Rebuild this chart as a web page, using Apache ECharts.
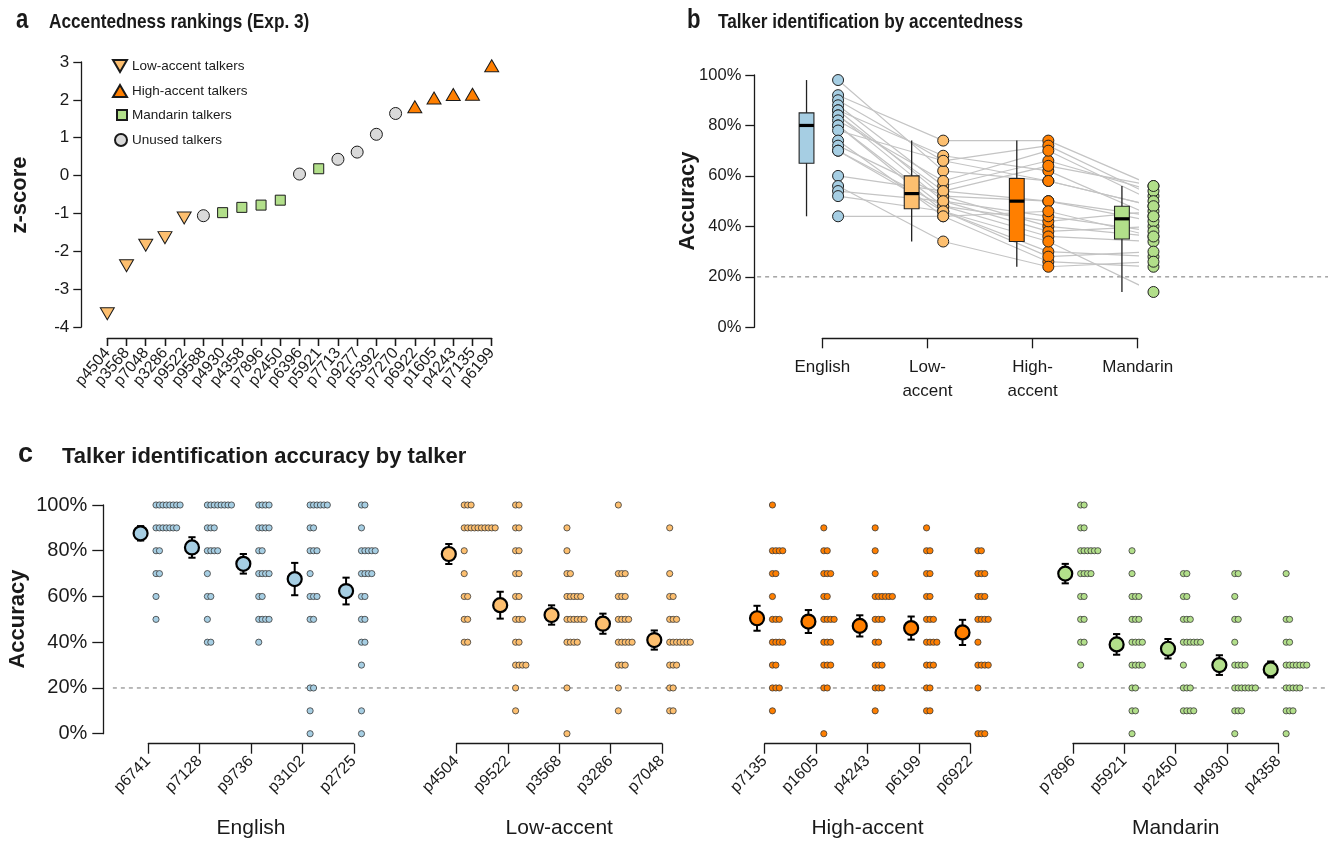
<!DOCTYPE html>
<html>
<head>
<meta charset="utf-8">
<script src="https://cdn.jsdelivr.net/npm/echarts@6/dist/echarts.min.js"></script>
<style>
  html, body { margin: 0; padding: 0; background: #fff; }
  #chart { width: 1328px; height: 843px; }
</style>
</head>
<body>
<div id="chart"></div>
<script>
// ---------- panel a: accentedness rankings ----------
const rankTalkers = ['p4504', 'p3568', 'p7048', 'p3286', 'p9522', 'p9588', 'p4930', 'p4358', 'p7896', 'p2450',
  'p6396', 'p5921', 'p7713', 'p9277', 'p5392', 'p7270', 'p6922', 'p1605', 'p4243', 'p7135', 'p6199']
const rankZ = [-3.65, -2.38, -1.84, -1.64, -1.12, -1.06, -0.98, -0.84, -0.78, -0.65,
  0.04, 0.18, 0.43, 0.62, 1.09, 1.64, 1.82, 2.05, 2.14, 2.15, 2.9]
const rankKind = ['low', 'low', 'low', 'low', 'low', 'unused', 'mand', 'mand', 'mand', 'mand',
  'unused', 'mand', 'unused', 'unused', 'unused', 'unused', 'high', 'high', 'high', 'high', 'high']
const zTicks = [-4, 3]

// ---------- panel b: per-participant accuracy by accent group ----------
const groupNames = ['English', 'Low-\naccent', 'High-\naccent', 'Mandarin']
const partEnglish = [98, 92, 90, 88, 86, 86, 84, 84, 82, 80, 80, 78, 74, 72, 70, 70, 60, 56, 54, 52, 44]
const partLow = [62, 74, 66, 56, 68, 52, 54, 50, 58, 46, 48, 66, 44, 52, 48, 46, 54, 34, 50, 46, 44]
const partHigh = [58, 74, 72, 66, 62, 40, 64, 38, 70, 30, 42, 58, 26, 50, 36, 28, 50, 24, 44, 34, 46]
const partMandarin = [48, 56, 52, 54, 44, 36, 56, 40, 50, 28, 46, 48, 24, 42, 34, 30, 44, 26, 38, 14, 36]
// [lower whisker, Q1, median, Q3, upper whisker]
const boxEnglish = [44, 65, 80, 85, 98]
const boxLow = [34, 47, 53, 60, 74]
const boxHigh = [24, 34, 50, 59, 74]
const boxMandarin = [14, 35, 43, 48, 56]
const chance = 20

// ---------- panel c: per-talker accuracy ----------
const levels = [0, 10, 20, 30, 40, 50, 60, 70, 80, 90, 100]
const englishTalkers = ['p6741', 'p7128', 'p9736', 'p3102', 'p2725']
const englishCounts = [
  [0, 0, 0, 0, 0, 1, 1, 2, 2, 7, 8],
  [0, 0, 0, 0, 2, 1, 2, 1, 4, 3, 8],
  [0, 0, 0, 0, 1, 4, 2, 4, 2, 4, 4],
  [1, 1, 2, 0, 0, 2, 3, 1, 3, 2, 6],
  [1, 1, 0, 1, 2, 2, 2, 4, 5, 1, 2]
]
const lowTalkers = ['p4504', 'p9522', 'p3568', 'p3286', 'p7048']
const lowCounts = [
  [0, 0, 0, 0, 2, 2, 2, 1, 1, 10, 3],
  [0, 1, 1, 4, 2, 3, 2, 2, 2, 2, 2],
  [1, 0, 1, 0, 4, 6, 5, 2, 1, 1, 0],
  [0, 1, 1, 3, 5, 4, 3, 3, 0, 0, 1],
  [0, 2, 2, 3, 7, 3, 2, 1, 0, 1, 0]
]
const highTalkers = ['p7135', 'p1605', 'p4243', 'p6199', 'p6922']
const highCounts = [
  [0, 1, 3, 2, 4, 3, 1, 2, 4, 0, 1],
  [1, 0, 2, 3, 3, 4, 2, 3, 2, 1, 0],
  [0, 1, 3, 3, 2, 3, 6, 1, 1, 1, 0],
  [0, 2, 2, 3, 4, 3, 2, 2, 2, 1, 0],
  [3, 0, 1, 4, 1, 4, 3, 3, 2, 0, 0]
]
const mandarinTalkers = ['p7896', 'p5921', 'p2450', 'p4930', 'p4358']
const mandarinCounts = [
  [0, 0, 0, 1, 2, 2, 2, 4, 6, 2, 2],
  [1, 2, 2, 4, 4, 3, 3, 1, 1, 0, 0],
  [0, 4, 3, 1, 6, 3, 2, 2, 0, 0, 0],
  [1, 3, 7, 4, 1, 2, 1, 2, 0, 0, 0],
  [1, 3, 5, 7, 2, 2, 0, 1, 0, 0, 0]
]
const groupLabels = ['English', 'Low-accent', 'High-accent', 'Mandarin']

// ---------- styling ----------
const colEnglish = '#a6cee3'
const colLow = '#fdbf6f'
const colHigh = '#ff7f00'
const colMandarin = '#b2df8a'
const colUnused = '#d9d9d9'
const ink = '#1a1a1a'
const fontReg = "'Liberation Sans', Arial, sans-serif"
const squeeze = 0.82 // top row text is set narrower than panel c
const downTri = 'path://M0,0 L20,0 L10,17 Z'
const upTri = 'path://M10,0 L20,17 L0,17 Z'

const chart = echarts.init(document.getElementById('chart'))

const axisBase = (tickLen) => ({
  axisLine: { show: true, onZero: false, lineStyle: { color: ink, width: 1.3 } },
  axisTick: { show: true, inside: false, length: tickLen, lineStyle: { color: ink, width: 1.3 } },
  splitLine: { show: false }
})

// panel a series
const rankKinds = [
  { key: 'low', name: 'Low-accent talkers', color: colLow, symbol: downTri, size: [14, 12] },
  { key: 'high', name: 'High-accent talkers', color: colHigh, symbol: upTri, size: [14, 12] },
  { key: 'mand', name: 'Mandarin talkers', color: colMandarin, symbol: 'rect', size: [10, 10] },
  { key: 'unused', name: 'Unused talkers', color: colUnused, symbol: 'circle', size: [12, 12] }
]
const legendRows = [66, 91, 115, 140]

const series = []
rankKinds.forEach(k => {
  series.push({
    name: k.name,
    type: 'scatter',
    xAxisIndex: 0,
    yAxisIndex: 0,
    clip: false,
    symbol: k.symbol,
    symbolSize: k.size,
    itemStyle: { color: k.color, borderColor: ink, borderWidth: 1, opacity: 1 },
    data: rankZ.map((z, i) => rankKind[i] === k.key ? [i, z] : null).filter(d => d)
  })
})

// panel b: participant lines, boxes, dots
const partGroups = [partEnglish, partLow, partHigh, partMandarin]
const boxes = [boxEnglish, boxLow, boxHigh, boxMandarin]
const groupColors = [colEnglish, colLow, colHigh, colMandarin]

partEnglish.forEach((_, p) => {
  series.push({
    type: 'line',
    xAxisIndex: 1,
    yAxisIndex: 1,
    clip: false,
    silent: true,
    symbol: 'none',
    z: 2,
    lineStyle: { color: '#c4c4c4', width: 1.2 },
    data: partGroups.map((vals, g) => [g + 1 + 0.15, vals[p]])
  })
})

series.push({
  type: 'custom',
  xAxisIndex: 1,
  yAxisIndex: 1,
  clip: false,
  silent: true,
  z: 1,
  data: [[1, chance]],
  renderItem: (params, api) => {
    const a = api.coord([0.38, api.value(1)])
    const b = api.coord([5.82, api.value(1)])
    return {
      type: 'line',
      shape: { x1: a[0], y1: a[1], x2: b[0], y2: b[1] },
      style: { stroke: '#8c8c8c', lineWidth: 1.2, lineDash: [4, 4] }
    }
  }
})

series.push({
  type: 'custom',
  xAxisIndex: 1,
  yAxisIndex: 1,
  clip: false,
  silent: true,
  z: 3,
  data: boxes.map((b, g) => [g + 1, ...b]),
  renderItem: (params, api) => {
    const x = api.value(0) - 0.15
    const lo = api.coord([x, api.value(1)])
    const q1 = api.coord([x, api.value(2)])
    const md = api.coord([x, api.value(3)])
    const q3 = api.coord([x, api.value(4)])
    const hi = api.coord([x, api.value(5)])
    const hw = 7.4
    return {
      type: 'group',
      children: [
        { type: 'line', shape: { x1: lo[0], y1: lo[1], x2: hi[0], y2: hi[1] }, style: { stroke: '#222', lineWidth: 1.3 } },
        { type: 'rect', shape: { x: q3[0] - hw, y: q3[1], width: hw * 2, height: q1[1] - q3[1] },
          style: { fill: groupColors[params.dataIndex], stroke: '#222', lineWidth: 1.1 } },
        { type: 'line', shape: { x1: md[0] - hw, y1: md[1], x2: md[0] + hw, y2: md[1] }, style: { stroke: '#000', lineWidth: 3.2 } }
      ]
    }
  }
})

partGroups.forEach((vals, g) => {
  series.push({
    type: 'scatter',
    xAxisIndex: 1,
    yAxisIndex: 1,
    clip: false,
    silent: true,
    z: 4,
    symbolSize: 11,
    itemStyle: { color: groupColors[g], borderColor: '#222', borderWidth: 1, opacity: 1 },
    data: vals.map(v => [g + 1 + 0.15, v])
  })
})

// panel c
const talkerStats = counts => {
  let n = 0, s = 0
  counts.forEach((c, i) => { n += c; s += c * levels[i] })
  const m = s / n
  let v = 0
  counts.forEach((c, i) => { v += c * (levels[i] - m) * (levels[i] - m) })
  return [m, Math.sqrt(v / (n - 1)) / Math.sqrt(n)]
}

const cGroups = [
  { talkers: englishTalkers, counts: englishCounts, color: colEnglish },
  { talkers: lowTalkers, counts: lowCounts, color: colLow },
  { talkers: highTalkers, counts: highCounts, color: colHigh },
  { talkers: mandarinTalkers, counts: mandarinCounts, color: colMandarin }
]

cGroups.forEach((grp, gi) => {
  const dots = []
  const means = []
  const bars = []
  grp.counts.forEach((counts, k) => {
    counts.forEach((c, li) => {
      for (let j = 0; j < c; j++) dots.push([k + 0.15 + j * 0.067, levels[li]])
    })
    const [m, se] = talkerStats(counts)
    means.push([k - 0.15, m])
    bars.push([k - 0.15, m - se, m + se])
  })
  series.push({
    type: 'scatter',
    xAxisIndex: 2 + gi,
    yAxisIndex: 2 + gi,
    clip: false,
    silent: true,
    z: 3,
    symbolSize: 6.2,
    itemStyle: { color: grp.color, borderColor: '#3a3a3a', borderWidth: 0.8, opacity: 1 },
    data: dots
  })
  series.push({
    type: 'custom',
    xAxisIndex: 2 + gi,
    yAxisIndex: 2 + gi,
    clip: false,
    silent: true,
    z: 4,
    data: bars,
    renderItem: (params, api) => {
      const lo = api.coord([api.value(0), api.value(1)])
      const hi = api.coord([api.value(0), api.value(2)])
      const cw = 3.6
      const st = { stroke: '#000', lineWidth: 2 }
      return {
        type: 'group',
        children: [
          { type: 'line', shape: { x1: lo[0], y1: lo[1], x2: hi[0], y2: hi[1] }, style: st },
          { type: 'line', shape: { x1: lo[0] - cw, y1: lo[1], x2: lo[0] + cw, y2: lo[1] }, style: st },
          { type: 'line', shape: { x1: hi[0] - cw, y1: hi[1], x2: hi[0] + cw, y2: hi[1] }, style: st }
        ]
      }
    }
  })
  series.push({
    type: 'scatter',
    xAxisIndex: 2 + gi,
    yAxisIndex: 2 + gi,
    clip: false,
    silent: true,
    z: 5,
    symbolSize: 14,
    itemStyle: { color: grp.color, borderColor: '#000', borderWidth: 2.2, opacity: 1 },
    data: means
  })
})

series.push({
  type: 'custom',
  xAxisIndex: 2,
  yAxisIndex: 2,
  clip: false,
  silent: true,
  z: 1,
  data: [[0, chance]],
  renderItem: (params, api) => {
    const a = api.coord([-0.69, api.value(1)])
    const b = api.coord([22.96, api.value(1)])
    return {
      type: 'line',
      shape: { x1: a[0], y1: a[1], x2: b[0], y2: b[1] },
      style: { stroke: '#8c8c8c', lineWidth: 1.2, lineDash: [4, 4] }
    }
  }
})

// grids and axes
const cUnit = 51.37
const grids = [
  { left: 107.3, top: 62, width: 384.4, height: 265 },
  { left: 822.3, top: 75, width: 315.4, height: 252.3 }
]
cGroups.forEach((_, gi) => {
  grids.push({ left: 148.3 + gi * 6 * cUnit, top: 505, width: 4 * cUnit, height: 228.7 })
})
grids.forEach(g => { g.outerBoundsMode = 'none'; g.containLabel = false })

// panel a talker labels are split over two axes (even / odd) so none get dropped as overlapping
const rankLabel = parity => ({
  rotate: 50, margin: 12, fontSize: 16, fontFamily: fontReg, color: ink,
  showMinLabel: true, showMaxLabel: true, hideOverlap: false,
  formatter: v => (v % 2 === parity ? rankTalkers[v] : '') || ''
})

const xAxes = [
  {
    gridIndex: 0, type: 'value', position: 'bottom', min: 0, max: rankTalkers.length - 1, interval: 1, offset: 11,
    ...axisBase(8),
    axisLabel: rankLabel(0)
  },
  {
    gridIndex: 1, type: 'value', min: 1, max: 4, interval: 1, offset: 11,
    ...axisBase(10),
    axisLabel: {
      margin: 17, fontSize: 17, lineHeight: 24, fontFamily: fontReg, color: ink,
      showMinLabel: true, showMaxLabel: true, hideOverlap: false,
      formatter: v => groupNames[v - 1] || ''
    }
  }
]
cGroups.forEach((grp, gi) => {
  xAxes.push({
    gridIndex: 2 + gi, type: 'value', min: 0, max: 4, interval: 1, offset: 10,
    ...axisBase(10),
    axisLabel: {
      rotate: 45, margin: 15, fontSize: 16, fontFamily: fontReg, color: ink,
      showMinLabel: true, showMaxLabel: true, hideOverlap: false,
      formatter: v => grp.talkers[v] || ''
    }
  })
})
xAxes.push({
  gridIndex: 0, type: 'value', position: 'bottom', min: 0, max: rankTalkers.length - 1, interval: 1, offset: 11,
  axisLine: { show: false, onZero: false },
  axisTick: { show: true, length: 8, lineStyle: { color: ink, width: 1.3 } },
  splitLine: { show: false },
  axisLabel: rankLabel(1)
})

const yAxes = [
  {
    gridIndex: 0, type: 'value', min: zTicks[0], max: zTicks[1], interval: 1, offset: 26,
    ...axisBase(8),
    axisLabel: { margin: 12, fontSize: 17, fontFamily: fontReg, color: ink, showMinLabel: true, showMaxLabel: true }
  },
  {
    gridIndex: 1, type: 'value', min: 0, max: 100, interval: 20, offset: 68,
    ...axisBase(9),
    axisLabel: { margin: 13, fontSize: 16.5, fontFamily: fontReg, color: ink, formatter: '{value}%', showMinLabel: true, showMaxLabel: true }
  },
  {
    gridIndex: 2, type: 'value', min: 0, max: 100, interval: 20, offset: 45,
    ...axisBase(11),
    axisLabel: { margin: 16, fontSize: 20, fontFamily: fontReg, color: ink, formatter: '{value}%', showMinLabel: true, showMaxLabel: true }
  }
]
for (let gi = 1; gi < cGroups.length; gi++) {
  yAxes.push({ gridIndex: 2 + gi, type: 'value', min: 0, max: 100, show: false })
}

// panel a legends (one per row so each icon keeps its own size)
const legends = rankKinds.map((k, i) => ({
  data: [{ name: k.name, icon: k.symbol }],
  left: 131 - 5 - k.size[0],
  top: legendRows[i] - 8,
  itemWidth: k.size[0],
  itemHeight: k.size[1],
  selectedMode: false,
  padding: 0,
  textStyle: { fontSize: 13.5, fontFamily: fontReg, color: ink, lineHeight: 16 }
}))

const txt = (text, x, y, font, opts = {}) => ({
  type: 'text', x, y, rotation: opts.rotation || 0, scaleX: opts.scaleX || 1, silent: true,
  style: { text, font, fill: ink, align: opts.align || 'left', verticalAlign: 'middle' }
})

const graphics = [
  txt('a', 16, 21, `bold 27px ${fontReg}`, { scaleX: squeeze }),
  txt('Accentedness rankings (Exp. 3)', 49, 22, `bold 21px ${fontReg}`, { scaleX: squeeze }),
  txt('b', 687, 21, `bold 27px ${fontReg}`, { scaleX: squeeze }),
  txt('Talker identification by accentedness', 718, 22, `bold 21px ${fontReg}`, { scaleX: squeeze }),
  txt('c', 18, 455, `bold 27px ${fontReg}`),
  txt('Talker identification accuracy by talker', 62, 457, `bold 22px ${fontReg}`),
  txt('z-score', 20, 195, `bold 22px ${fontReg}`, { rotation: Math.PI / 2, align: 'center' }),
  txt('Accuracy', 688, 201, `bold 22px ${fontReg}`, { rotation: Math.PI / 2, align: 'center' }),
  txt('Accuracy', 18, 619, `bold 22px ${fontReg}`, { rotation: Math.PI / 2, align: 'center' })
]
groupLabels.forEach((lab, gi) => {
  graphics.push(txt(lab, 148.3 + gi * 6 * cUnit + 2 * cUnit, 828, `21px ${fontReg}`, { align: 'center' }))
})

chart.setOption({
  backgroundColor: '#fff',
  animation: false,
  legend: legends,
  grid: grids,
  xAxis: xAxes,
  yAxis: yAxes,
  series: series,
  graphic: graphics
})
</script>
</body>
</html>
